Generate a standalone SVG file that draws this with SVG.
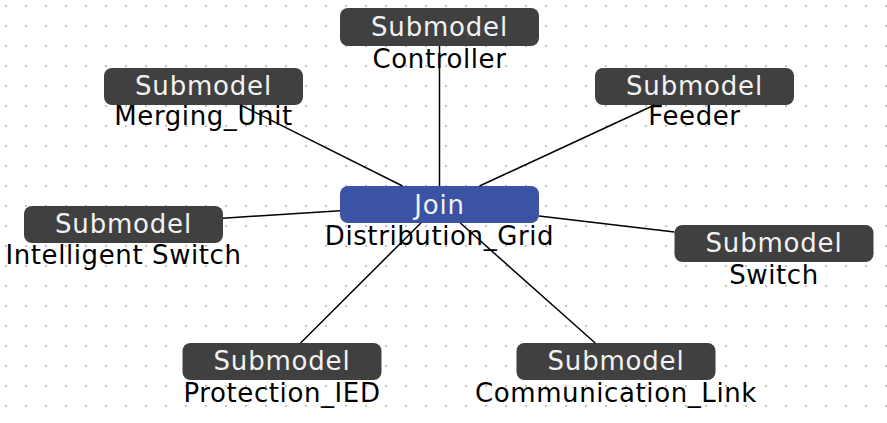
<svg xmlns="http://www.w3.org/2000/svg" width="887" height="423" viewBox="0 0 887 423">
<style>
.box{fill:#404040;}
.join{fill:#3a53a4;}
.in{font-family:"DejaVu Sans","Liberation Sans",sans-serif;font-size:26px;fill:#f2f2f2;text-anchor:middle;letter-spacing:0.8px;}
.lb{font-family:"DejaVu Sans","Liberation Sans",sans-serif;font-size:26px;fill:#000;text-anchor:middle;letter-spacing:0.6px;}
.edge{stroke:#000;stroke-width:1.5;fill:none;}
</style>
<defs>
<pattern id="dots" width="20" height="20" patternUnits="userSpaceOnUse">
<rect x="5.25" y="5.25" width="1.5" height="1.5" fill="#8f8f8f"/>
</pattern>
</defs>
<rect width="887" height="423" fill="#fff"/>
<rect width="887" height="423" fill="url(#dots)"/>
<g id="node-controller">
<rect class="box" x="340" y="8" width="199" height="38" rx="8"/>
<text class="in" x="439.5" y="36">Submodel</text>
<text class="lb" x="439.5" y="68">Controller</text>
</g>
<g id="node-merging-unit">
<rect class="box" x="104" y="68" width="199" height="37" rx="8"/>
<text class="in" x="203.5" y="95">Submodel</text>
<text class="lb" x="203.5" y="125">Merging_Unit</text>
</g>
<g id="node-feeder">
<rect class="box" x="595" y="68" width="199" height="37" rx="8"/>
<text class="in" x="694.5" y="95">Submodel</text>
<text class="lb" x="694.5" y="125">Feeder</text>
</g>
<g id="node-join">
<rect class="join" x="340" y="186" width="199" height="37" rx="8"/>
<text class="in" x="439.5" y="214">Join</text>
<text class="lb" x="439.5" y="245">Distribution_Grid</text>
</g>
<g id="node-intelligent-switch">
<rect class="box" x="24" y="206" width="199" height="37" rx="8"/>
<text class="in" x="123.5" y="233">Submodel</text>
<text class="lb" x="123.5" y="264">Intelligent Switch</text>
</g>
<g id="node-switch">
<rect class="box" x="674.5" y="225" width="199" height="37" rx="8"/>
<text class="in" x="774" y="252">Submodel</text>
<text class="lb" x="774" y="284">Switch</text>
</g>
<g id="node-protection-ied">
<rect class="box" x="182.5" y="343" width="199" height="37" rx="8"/>
<text class="in" x="282" y="370">Submodel</text>
<text class="lb" x="282" y="402">Protection_IED</text>
</g>
<g id="node-communication-link">
<rect class="box" x="516.5" y="343" width="199" height="37" rx="8"/>
<text class="in" x="616" y="370">Submodel</text>
<text class="lb" x="616" y="402">Communication_Link</text>
</g>
<g id="connectors">
<line class="edge" x1="439.5" y1="46" x2="439.5" y2="186"/>
<line class="edge" x1="240.5" y1="105" x2="402.5" y2="186"/>
<line class="edge" x1="654.5" y1="105" x2="479.5" y2="186"/>
<line class="edge" x1="223" y1="218.2" x2="340" y2="210.8"/>
<line class="edge" x1="539" y1="216.1" x2="674.5" y2="231.9"/>
<line class="edge" x1="420.9" y1="223" x2="300.6" y2="343"/>
<line class="edge" x1="460.3" y1="223" x2="595.2" y2="343"/>
</g>
</svg>
